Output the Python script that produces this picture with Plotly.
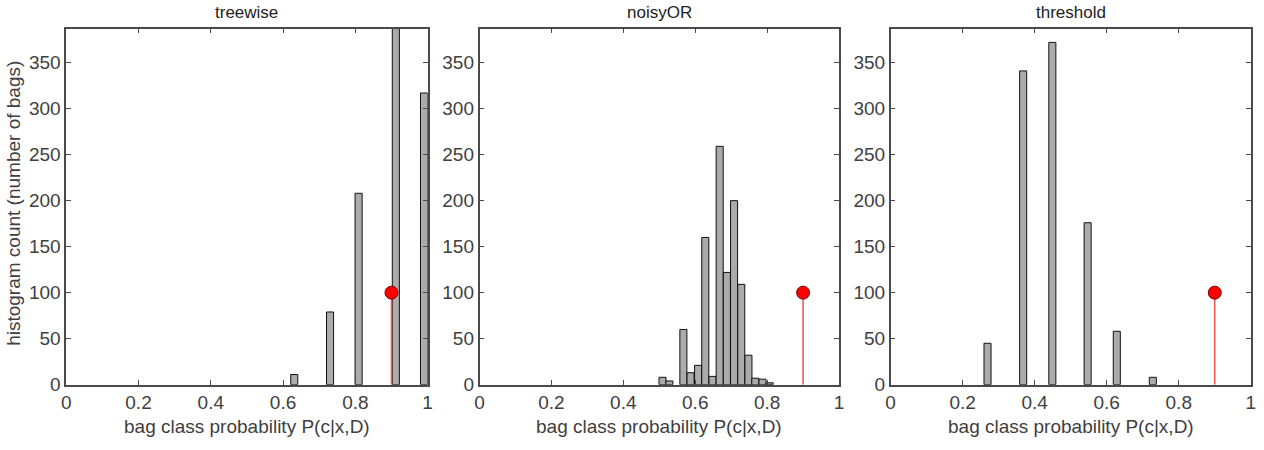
import plotly.graph_objects as go

# ---- data ----
panel_titles = ["treewise", "noisyOR", "threshold"]

treewise_x = [0.631, 0.730, 0.809, 0.912, 0.990]
treewise_y = [11, 79, 208, 387, 317]

noisyor_x = [0.509, 0.528, 0.567, 0.587, 0.608, 0.628, 0.648, 0.668,
             0.688, 0.708, 0.728, 0.748, 0.767, 0.787, 0.807]
noisyor_y = [8, 4, 60, 13, 21, 160, 9, 259, 122, 200, 109, 32, 7, 6, 2]

threshold_x = [0.269, 0.368, 0.449, 0.547, 0.628, 0.728]
threshold_y = [45, 341, 372, 176, 58, 8]

stem_x = [0.9]
stem_y = [100]

bin_width = 0.0196

x_ticks = [0, 0.2, 0.4, 0.6, 0.8, 1]
x_tick_labels = ["0", "0.2", "0.4", "0.6", "0.8", "1"]
y_ticks = [0, 50, 100, 150, 200, 250, 300, 350]
y_max = 387

x_label = "bag class probability P(c|x,D)"
y_label = "histogram count (number of bags)"

# ---- figure ----
W, H = 1264, 450
domains_px = [(61.7, 426.0), (478.3, 840.7), (892.7, 1255.7)]
top_px, bottom_px = 29.3, 394.3

text_color = "#404040"
line_color = "#4a4a4a"
font_family = "Liberation Sans, Arial, sans-serif"

fig = go.Figure()
series = [(treewise_x, treewise_y), (noisyor_x, noisyor_y), (threshold_x, threshold_y)]

for i, (xs, ys) in enumerate(series):
    ax = "" if i == 0 else str(i + 1)
    fig.add_trace(go.Bar(
        x=xs, y=ys, width=[bin_width] * len(xs),
        marker=dict(color="#ababab", line=dict(color="#111111", width=1)),
        xaxis="x" + ax, yaxis="y" + ax, showlegend=False, hoverinfo="x+y",
    ))
    for sx, sy in zip(stem_x, stem_y):
        fig.add_trace(go.Scatter(
            x=[sx, sx], y=[0, sy], mode="lines",
            line=dict(color="#f05a5a", width=1.6),
            xaxis="x" + ax, yaxis="y" + ax, showlegend=False, hoverinfo="skip",
        ))
    fig.add_trace(go.Scatter(
        x=stem_x, y=stem_y, mode="markers",
        marker=dict(color="#ff0000", size=13, line=dict(color="#7a0000", width=1)),
        xaxis="x" + ax, yaxis="y" + ax, showlegend=False, cliponaxis=False,
    ))

layout = dict(
    width=W, height=H,
    margin=dict(l=0, r=0, t=0, b=0),
    paper_bgcolor="white", plot_bgcolor="white",
    font=dict(family=font_family, size=18, color=text_color),
    barmode="overlay",
    annotations=[],
)

ydom = [1 - bottom_px / H, 1 - top_px / H]
for i, (x0, x1) in enumerate(domains_px):
    ax = "" if i == 0 else str(i + 1)
    layout["xaxis" + ax] = dict(
        domain=[x0 / W, x1 / W], range=[0, 1], anchor="y" + ax,
        tickvals=x_ticks, ticktext=x_tick_labels,
        ticks="inside", ticklen=5, tickwidth=1, tickcolor=line_color,
        showline=True, linecolor=line_color, linewidth=1.5, mirror="ticks",
        showgrid=False, zeroline=False,
        tickfont=dict(size=19, color=text_color),
    )
    layout["yaxis" + ax] = dict(
        domain=ydom, range=[0, y_max], anchor="x" + ax,
        tickvals=y_ticks,
        ticks="inside", ticklen=5, tickwidth=1, tickcolor=line_color,
        showline=True, linecolor=line_color, linewidth=1.5, mirror="ticks",
        showgrid=False, zeroline=False,
        tickfont=dict(size=19, color=text_color),
    )
    cx = (x0 + x1) / 2 / W
    layout["annotations"].append(dict(
        text=panel_titles[i], x=cx, y=1 - 1 / H, xref="paper", yref="paper",
        xanchor="center", yanchor="top", showarrow=False,
        font=dict(size=17, color="#222222"),
    ))
    layout["annotations"].append(dict(
        text=x_label, x=cx, y=1 - 437 / H, xref="paper", yref="paper",
        xanchor="center", yanchor="middle", showarrow=False,
        font=dict(size=19, color=text_color),
    ))

layout["annotations"].append(dict(
    text=y_label, x=9 / W, y=1 - 208 / H, xref="paper", yref="paper",
    xanchor="center", yanchor="middle", showarrow=False, textangle=-90,
    font=dict(size=19, color=text_color),
))

fig.update_layout(**layout)
fig.write_html("out.html")
